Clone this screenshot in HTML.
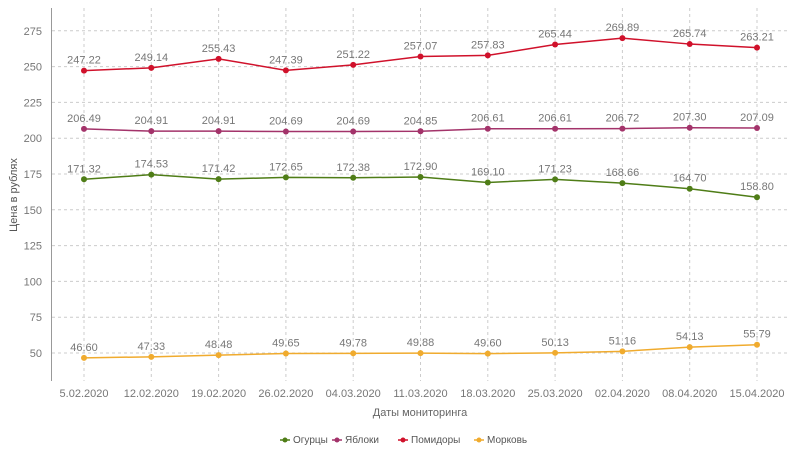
<!DOCTYPE html>
<html><head><meta charset="utf-8"><style>
body{margin:0;background:#fff;font-family:"Liberation Sans",sans-serif;}
svg text{font-family:"Liberation Sans",sans-serif;}
</style></head><body>
<svg id="c" width="800" height="450"></svg>
<script>
const categories=["5.02.2020","12.02.2020","19.02.2020","26.02.2020","04.03.2020","11.03.2020","18.03.2020","25.03.2020","02.04.2020","08.04.2020","15.04.2020"];
const tomatoes=[247.22,249.14,255.43,247.39,251.22,257.07,257.83,265.44,269.89,265.74,263.21];
const apples=[206.49,204.91,204.91,204.69,204.69,204.85,206.61,206.61,206.72,207.30,207.09];
const cucumbers=[171.32,174.53,171.42,172.65,172.38,172.90,169.10,171.23,168.66,164.70,158.80];
const carrots=[46.60,47.33,48.48,49.65,49.78,49.88,49.60,50.13,51.16,54.13,55.79];
const yTicks=[50,75,100,125,150,175,200,225,250,275];
const seriesNames=["Огурцы","Яблоки","Помидоры","Морковь"];
const NS="http://www.w3.org/2000/svg";
const svg=document.getElementById('c');
function mk(t,a,p){const e=document.createElementNS(NS,t);for(const k in a)e.setAttribute(k,a[k]);(p||svg).appendChild(e);return e;}
const x=i=>84+i*67.3;
const y=v=>353-(v-50)*35.8/25;
// grid
yTicks.forEach(v=>{
 const l=mk('line',{x1:52,x2:790,y1:y(v),y2:y(v),stroke:'#ccc','stroke-dasharray':'3,3'});
 
 const t=mk('text',{x:42,y:y(v)+4,'text-anchor':'end','font-size':11,fill:'#777'});t.textContent=v;
 
});
categories.forEach((c,i)=>{
 const l=mk('line',{x1:x(i),x2:x(i),y1:8,y2:381,stroke:'#ccc','stroke-dasharray':'3,3'});
 
 const t=mk('text',{x:x(i),y:397,'text-anchor':'middle','font-size':11,fill:'#777'});t.textContent=c;
 
});
const ax=mk('line',{x1:51.5,x2:51.5,y1:8,y2:381,stroke:'#999','stroke-width':1});

const xt=mk('text',{x:420,y:416,'text-anchor':'middle','font-size':11,fill:'#666'});xt.textContent='Даты мониторинга';

const yt=mk('text',{x:0,y:0,'text-anchor':'middle','font-size':11,fill:'#555',transform:'translate(17,195) rotate(-90)'});yt.textContent='Цена в рублях';

const series=[[cucumbers,'#4f7d17'],[apples,'#a3336a'],[tomatoes,'#d0112b'],[carrots,'#f0ab2e']];
series.forEach(([d,col],si)=>{
 const g=mk('g',{});
 const p=mk('polyline',{points:d.map((v,i)=>x(i)+','+y(v)).join(' '),fill:'none',stroke:col,'stroke-width':1.5},g);
 
 d.forEach((v,i)=>{
  const c=mk('circle',{cx:x(i),cy:y(v),r:3,fill:col},g);
  
  const t=mk('text',{x:x(i),y:y(v)-7,'text-anchor':'middle','font-size':11,fill:'#777'},g);t.textContent=v.toFixed(2);
  
 });
});
// legend
const lx=[280,332,398,474];
series.forEach(([d,col],si)=>{
 const g=mk('g',{});
 mk('line',{x1:lx[si],x2:lx[si]+10,y1:440,y2:440,stroke:col,'stroke-width':1.5},g);
 mk('circle',{cx:lx[si]+5,cy:440,r:2.5,fill:col},g);
 const t=mk('text',{x:lx[si]+13,y:443,'font-size':10,fill:'#555'},g);t.textContent=seriesNames[si];
});
</script>
</body></html>
